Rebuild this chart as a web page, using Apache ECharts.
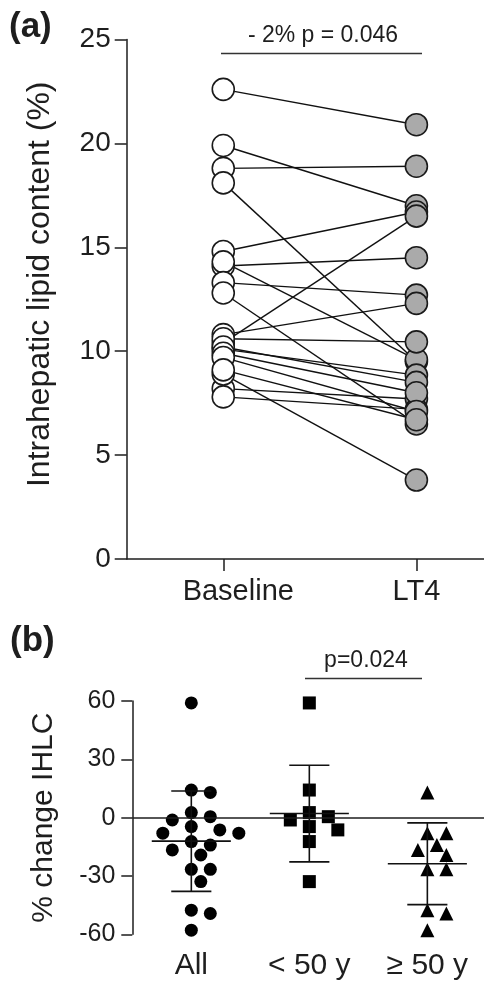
<!DOCTYPE html>
<html>
<head>
<meta charset="utf-8">
<title>IHLC baseline vs LT4</title>
<script src="https://cdn.jsdelivr.net/npm/echarts@6/dist/echarts.min.js"></script>
<style>
  html, body { margin: 0; padding: 0; background: #fff; }
  #chart { width: 484px; height: 990px; }
</style>
</head>
<body>
<div id="chart"></div>
<script>
// panel (a): paired intrahepatic lipid content (%)
const pairLabels = ['Baseline', 'LT4'];
const ihlcBaseline = [22.6, 19.9, 18.8, 18.1, 14.8, 14.1, 14.3, 13.3, 12.8, 10.8,
  10.4, 10.6, 10.1, 8.2, 7.8, 10.2, 9.9, 9.7, 8.9, 9.1];
const ihlcLT4 = [20.9, 17.0, 18.9, 9.5, 16.7, 14.5, 9.6, 12.7, 6.5, 12.3,
  16.5, 10.45, 8.85, 7.7, 7.2, 8.5, 8.0, 7.1, 3.8, 6.7];

// panel (b): % change in IHLC by age group
const groupLabels = ['All', '< 50 y', '≥ 50 y'];
const changeUnder50 = [59, 14.2, 2.6, 0.5, -1.2, -4.6, -6.3, -12.3, -32.9];
const changeOver50 = [13, -8, -8, -14.1, -16.6, -19.2, -26.6, -26.6, -47.6, -49.3, -57.9];
const changeAll = changeUnder50.concat(changeOver50);

const FONT = '"Liberation Sans", Arial, Helvetica, sans-serif';
const INK = '#1e1e1e';

// simple beeswarm so dots of equal value sit side by side
const PX_PER_X = 118;
const PX_PER_Y = 233.3 / 120;
function swarm(values, center) {
  const placed = [];
  const step = 9.5;
  const minD = 13.5;
  return values.slice().sort((a, b) => b - a).map((v) => {
    const yp = v * PX_PER_Y;
    for (let i = 0; i < 15; i++) {
      const k = i === 0 ? 0 : (i % 2 ? (i + 1) / 2 : -i / 2);
      const xp = k * step;
      const free = placed.every(([px, py]) => (px - xp) ** 2 + (py - yp) ** 2 >= minD * minD);
      if (free) {
        placed.push([xp, yp]);
        return [center + xp / PX_PER_X, v];
      }
    }
    return [center, v];
  });
}

function meanSd(arr) {
  const m = arr.reduce((s, v) => s + v, 0) / arr.length;
  const sd = Math.sqrt(arr.reduce((s, v) => s + (v - m) ** 2, 0) / (arr.length - 1));
  return [m, sd];
}

const groups = [changeAll, changeUnder50, changeOver50];
const errorData = groups.map((g, i) => [i + 1].concat(meanSd(g)));

const lineSeries = ihlcBaseline.map((b, i) => ({
  type: 'line',
  xAxisIndex: 0,
  yAxisIndex: 0,
  data: [[1, b], [2, ihlcLT4[i]]],
  symbol: 'none',
  silent: true,
  lineStyle: { color: '#111', width: 1.4 },
  z: 2
}));

const chart = echarts.init(document.getElementById('chart'), null, { renderer: 'canvas' });

chart.setOption({
  animation: false,
  textStyle: { fontFamily: FONT, color: INK },
  grid: [
    { left: 126.7, top: 39.5, right: 0, height: 519.5 },
    { left: 132.3, top: 701, right: 0, height: 233.3 }
  ],
  xAxis: [
    {
      gridIndex: 0,
      type: 'value',
      min: 0.5,
      max: 2.35,
      splitLine: { show: false },
      axisLine: { lineStyle: { color: INK, width: 1.5 } },
      axisTick: { customValues: [1, 2], length: 12, lineStyle: { color: INK, width: 1.5 } },
      axisLabel: {
        customValues: [1, 2],
        margin: 18,
        fontSize: 29,
        color: INK,
        formatter: (v) => (Math.round(v) === 1 ? '{shift|' + pairLabels[0] + '}' : pairLabels[1]),
        rich: { shift: { fontSize: 29, fontFamily: FONT, color: INK, padding: [0, 0, 0, 30] } }
      }
    },
    {
      gridIndex: 1,
      type: 'value',
      min: 0.5,
      max: 3.48,
      splitLine: { show: false },
      axisLine: { show: false },
      axisTick: { show: false },
      axisLabel: {
        customValues: [1, 2, 3],
        margin: 16,
        fontSize: 30,
        color: INK,
        formatter: (v) => groupLabels[Math.round(v) - 1]
      }
    }
  ],
  yAxis: [
    {
      gridIndex: 0,
      type: 'value',
      min: 0,
      max: 25,
      interval: 5,
      name: 'Intrahepatic lipid content (%)',
      nameLocation: 'middle',
      nameGap: 71,
      nameTextStyle: { fontSize: 32, color: INK, padding: [0, 0, 0, 30] },
      splitLine: { show: false },
      axisLine: { show: true, lineStyle: { color: INK, width: 1.5 } },
      axisTick: { show: true, length: 12, lineStyle: { color: INK, width: 1.5 } },
      axisLabel: { fontSize: 28, margin: 16, color: INK }
    },
    {
      gridIndex: 1,
      type: 'value',
      min: -60,
      max: 60,
      interval: 30,
      name: '% change IHLC',
      nameLocation: 'middle',
      nameGap: 74,
      nameTextStyle: { fontSize: 30, color: INK },
      splitLine: { show: false },
      axisLine: { show: true, onZero: false, lineStyle: { color: INK, width: 1.5 } },
      axisTick: { show: true, length: 11, lineStyle: { color: INK, width: 1.5 } },
      axisLabel: { fontSize: 25, margin: 17, color: INK }
    }
  ],
  series: lineSeries.concat([
    {
      type: 'scatter',
      xAxisIndex: 0,
      yAxisIndex: 0,
      data: ihlcBaseline.map((v) => [1, v]),
      symbol: 'circle',
      symbolSize: 22,
      itemStyle: { color: '#fff', borderColor: '#1a1a1a', borderWidth: 1.6, opacity: 1 },
      z: 3
    },
    {
      type: 'scatter',
      xAxisIndex: 0,
      yAxisIndex: 0,
      data: ihlcLT4.map((v) => [2, v]),
      symbol: 'circle',
      symbolSize: 22,
      itemStyle: { color: '#aaaaaa', borderColor: '#1a1a1a', borderWidth: 1.6, opacity: 1 },
      z: 3
    },
    {
      type: 'scatter',
      xAxisIndex: 1,
      yAxisIndex: 1,
      data: swarm(changeAll, 1),
      symbol: 'circle',
      symbolSize: 13,
      itemStyle: { color: '#000', opacity: 1 },
      markLine: {
        silent: true,
        symbol: 'none',
        label: { show: false },
        lineStyle: { color: INK, width: 1.5, type: 'solid' },
        data: [{ yAxis: 0 }]
      },
      z: 3
    },
    {
      type: 'scatter',
      xAxisIndex: 1,
      yAxisIndex: 1,
      data: swarm(changeUnder50, 2),
      symbol: 'rect',
      symbolSize: 13,
      itemStyle: { color: '#000', opacity: 1 },
      z: 3
    },
    {
      type: 'scatter',
      xAxisIndex: 1,
      yAxisIndex: 1,
      data: swarm(changeOver50, 3),
      symbol: 'triangle',
      symbolSize: 14,
      itemStyle: { color: '#000', opacity: 1 },
      z: 3
    },
    {
      type: 'custom',
      xAxisIndex: 1,
      yAxisIndex: 1,
      data: errorData,
      silent: true,
      z: 4,
      renderItem: (params, api) => {
        const x = api.value(0);
        const m = api.value(1);
        const sd = api.value(2);
        const seg = (x1, y1, x2, y2) => {
          const a = api.coord([x1, y1]);
          const b = api.coord([x2, y2]);
          return {
            type: 'line',
            shape: { x1: a[0], y1: a[1], x2: b[0], y2: b[1] },
            style: { stroke: '#111', lineWidth: 1.6 }
          };
        };
        return {
          type: 'group',
          children: [
            seg(x - 0.335, m, x + 0.335, m),
            seg(x, m - sd, x, m + sd),
            seg(x - 0.17, m + sd, x + 0.17, m + sd),
            seg(x - 0.17, m - sd, x + 0.17, m - sd)
          ]
        };
      }
    }
  ]),
  graphic: [
    { type: 'text', left: 9, top: 10, style: { text: '(a)', font: 'bold 35px ' + FONT, fill: INK } },
    { type: 'text', x: 323, y: 36, style: { text: '- 2% p = 0.046', font: '23px ' + FONT, fill: INK, textAlign: 'center', textVerticalAlign: 'middle' } },
    { type: 'line', shape: { x1: 221, y1: 53.5, x2: 422, y2: 53.5 }, style: { stroke: '#333', lineWidth: 1.3 } },
    { type: 'text', left: 10, top: 624, style: { text: '(b)', font: 'bold 35px ' + FONT, fill: INK } },
    { type: 'text', x: 366, y: 661, style: { text: 'p=0.024', font: '23px ' + FONT, fill: INK, textAlign: 'center', textVerticalAlign: 'middle' } },
    { type: 'line', shape: { x1: 305, y1: 678.5, x2: 422, y2: 678.5 }, style: { stroke: '#333', lineWidth: 1.3 } }
  ]
});
</script>
</body>
</html>
